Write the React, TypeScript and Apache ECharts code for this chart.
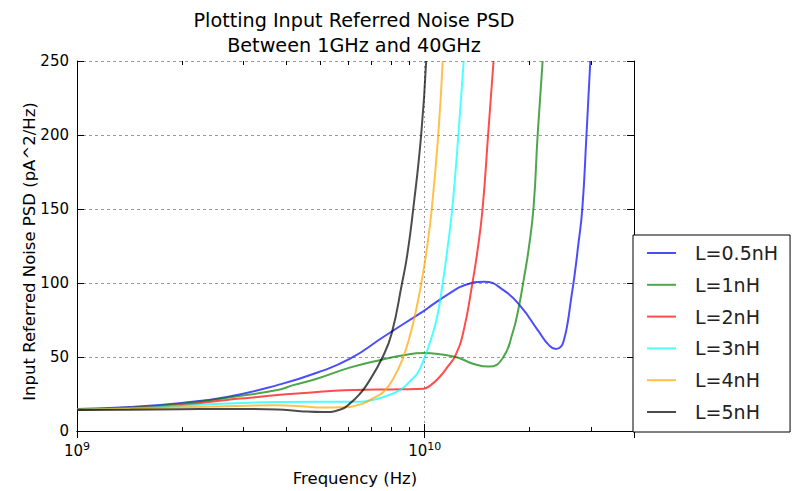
import React, { useEffect, useRef } from 'react';
import * as echarts from 'echarts';

const FONT = 'DejaVu Sans';

const seriesNames = ['L=0.5nH', 'L=1nH', 'L=2nH', 'L=3nH', 'L=4nH', 'L=5nH'];
const seriesColors = [
  'rgba(0,0,255,0.7)',
  'rgba(0,128,0,0.7)',
  'rgba(255,0,0,0.7)',
  'rgba(0,255,255,0.7)',
  'rgba(255,165,0,0.7)',
  'rgba(0,0,0,0.7)',
];

// Frequencies in GHz, PSD values in pA^2/Hz
const freqL05 = [1, 1.42, 2, 2.7, 3.77, 4.92, 6.12, 7.62, 9.55, 10.07, 10.41, 11.88, 12.95, 14.79, 16.89, 18.91, 21.17, 22.77, 23.85, 24.66, 25.15, 25.77, 26.34, 26.94, 27.6, 28.4, 29.2, 29.95];
const valL05 = [14.8, 16.2, 19, 23, 31, 39.5, 49, 63.7, 78.5, 82, 84.5, 93.5, 98.3, 100.9, 95, 84, 68, 58, 55.4, 57, 61.5, 73, 88.5, 104, 124, 150, 200, 250];

const freqL1 = [1, 1.42, 2, 2.7, 3.77, 4.19, 4.92, 6.12, 7.62, 8.6, 9.93, 10.41, 12.28, 13.84, 15.29, 16.74, 17.89, 18.66, 19.29, 19.94, 20.58, 21.13, 21.84];
const valL1 = [14.5, 15.8, 18.5, 22.5, 27.7, 31, 35.5, 43, 48.5, 51, 52.7, 52.5, 50, 45.3, 43.5, 49, 66, 84, 103, 124, 152, 200, 250];

const freqL2 = [1, 1.42, 2, 2.7, 3.15, 3.77, 4.39, 5.84, 7.3, 8.6, 9.93, 10.41, 10.97, 11.65, 12.28, 12.95, 13.72, 14.19, 14.67, 15.22, 15.78];
const valL2 = [14.5, 15.5, 17.5, 21, 22.5, 24.3, 25.5, 27.5, 28, 28.2, 28.6, 31, 35.8, 43.5, 51.5, 68, 100, 122, 150, 200, 250];

const freqL3 = [1, 1.42, 2, 2.7, 3.77, 5, 6.54, 6.85, 7.62, 8.53, 9.11, 9.53, 9.93, 10.41, 10.88, 11.27, 11.61, 12.0, 12.5, 12.95];
const valL3 = [14.5, 15.3, 17, 18.5, 19.6, 19.8, 19.8, 20.3, 23, 28, 34, 39, 48, 61.5, 78, 100, 122, 150, 200, 250];

const freqL4 = [1, 1.42, 2, 2.7, 3.77, 4.39, 5.12, 5.73, 6.54, 7.13, 7.62, 8.14, 8.62, 9.11, 9.49, 9.8, 10.1, 10.48, 10.94, 11.27];
const valL4 = [14.3, 15, 16, 16.8, 17.4, 16.8, 15.8, 16, 18, 22.3, 26.5, 35.8, 48, 66, 84, 101, 120, 150, 200, 250];

const freqL5 = [1, 1.42, 2, 2.7, 3.15, 3.77, 4.39, 5.12, 5.73, 6.12, 6.54, 6.85, 7.57, 8.04, 8.61, 8.91, 9.27, 9.77, 10.1];
const valL5 = [14.2, 14.4, 14.7, 14.9, 14.9, 14.6, 13.4, 12.8, 14.5, 19, 25.7, 32, 50, 66, 100, 119, 150, 200, 250];

const seriesFreqs = [freqL05, freqL1, freqL2, freqL3, freqL4, freqL5];
const seriesVals = [valL05, valL1, valL2, valL3, valL4, valL5];

const xMinHz = 1e9;
const xMaxHz = 4e10;
const yMin = 0;
const yMax = 250;
const yInterval = 50;
const minorTickFreqsGHz = [2, 3, 4, 5, 6, 7, 8, 9, 20, 30];

const titleLines = ['Plotting Input Referred Noise PSD', 'Between 1GHz and 40GHz'];
const xTitle = 'Frequency (Hz)';
const yTitle = 'Input Referred Noise PSD (pA^2/Hz)';

export default function App() {
  const ref = useRef<HTMLDivElement>(null);

  useEffect(() => {
    if (!ref.current) return;
    const chart = echarts.init(ref.current, null, { renderer: 'svg' });

    const gridLine = { show: true, lineStyle: { color: '#9a9a9a', width: 1, type: [3, 3] as any } };
    const axisLineStyle = { show: true, lineStyle: { color: '#000', width: 1 } };

    const lineSeries = seriesNames.map((name, i) => ({
      name,
      type: 'line',
      xAxisIndex: 0,
      yAxisIndex: 0,
      symbol: 'none',
      showSymbol: false,
      smooth: 0.5,
      clip: true,
      lineStyle: { color: seriesColors[i], width: 2 },
      itemStyle: { color: seriesColors[i] },
      data: seriesFreqs[i].map((f, k) => [f * 1e9, seriesVals[i][k]]),
      z: 3,
    }));

    const textGraphics: any[] = [
      {
        type: 'text',
        x: 354,
        y: 20,
        style: { text: titleLines[0], fontSize: 19.2, fontFamily: FONT, fill: '#000', align: 'center', verticalAlign: 'middle', textAlign: 'center', textVerticalAlign: 'middle' },
      },
      {
        type: 'text',
        x: 354,
        y: 45,
        style: { text: titleLines[1], fontSize: 19.2, fontFamily: FONT, fill: '#000', align: 'center', verticalAlign: 'middle', textAlign: 'center', textVerticalAlign: 'middle' },
      },
      {
        type: 'text',
        x: 355,
        y: 478,
        style: { text: xTitle, fontSize: 16.5, fontFamily: FONT, fill: '#000', align: 'center', verticalAlign: 'middle', textAlign: 'center', textVerticalAlign: 'middle' },
      },
      {
        type: 'text',
        x: 29.5,
        y: 251.5,
        rotation: Math.PI / 2,
        style: { text: yTitle, fontSize: 16.5, fontFamily: FONT, fill: '#000', align: 'center', verticalAlign: 'middle', textAlign: 'center', textVerticalAlign: 'middle' },
      },
    ];

    const option: any = {
      animation: false,
      backgroundColor: '#fff',
      grid: { left: 77, top: 61, width: 557, height: 370, containLabel: false },
      xAxis: [
        {
          type: 'log',
          logBase: 10,
          min: xMinHz,
          max: xMaxHz,
          position: 'bottom',
          axisLine: axisLineStyle,
          axisTick: { show: true, inside: true, length: 7, lineStyle: { color: '#000' } },
          splitLine: { show: true, lineStyle: { color: '#9a9a9a', width: 1, type: [2, 3] } },
          axisLabel: {
            margin: 10,
            formatter: (v: number) => {
              const e = Math.log10(v);
              const r = Math.round(e);
              if (Math.abs(e - r) < 1e-6) return `{b|10}{s|${r}}`;
              return '';
            },
            rich: {
              b: { fontSize: 15, fontFamily: FONT, color: '#000' },
              s: { fontSize: 11, fontFamily: FONT, color: '#000', padding: [0, 0, 8, 0] },
            },
          },
        },
        {
          type: 'log',
          logBase: 10,
          min: xMinHz,
          max: xMaxHz,
          position: 'top',
          axisLine: axisLineStyle,
          axisTick: { show: true, inside: true, length: 7, lineStyle: { color: '#000' } },
          splitLine: { show: false },
          axisLabel: { show: false },
        },
      ],
      yAxis: [
        {
          type: 'value',
          min: yMin,
          max: yMax,
          interval: yInterval,
          position: 'left',
          axisLine: axisLineStyle,
          axisTick: { show: true, inside: true, length: 7, lineStyle: { color: '#000' } },
          splitLine: gridLine,
          axisLabel: { fontSize: 15, fontFamily: FONT, color: '#000', margin: 8 },
        },
        {
          type: 'value',
          min: yMin,
          max: yMax,
          interval: yInterval,
          position: 'right',
          axisLine: axisLineStyle,
          axisTick: { show: true, inside: true, length: 7, lineStyle: { color: '#000' } },
          splitLine: { show: false },
          axisLabel: { show: false },
        },
      ],
      legend: {
        data: seriesNames,
        orient: 'vertical',
        left: 633,
        top: 235,
        padding: [7, 12, 9, 14],
        itemGap: 9.8,
        itemWidth: 29,
        itemHeight: 2,
        icon: 'rect',
        backgroundColor: '#fff',
        borderColor: '#000',
        borderWidth: 1,
        borderRadius: 0,
        textStyle: { fontSize: 19, fontFamily: FONT, color: '#222', lineHeight: 22, padding: [0, 0, 0, 14] },
      },
      graphic: textGraphics,
      series: lineSeries,
    };

    chart.setOption(option);

    // Minor log ticks (2..9 x 10^n) on bottom and top, placed through the axis scale
    const yb = chart.convertToPixel({ yAxisIndex: 0 }, yMin) as number;
    const yt = chart.convertToPixel({ yAxisIndex: 0 }, yMax) as number;
    const tickGraphics: any[] = [];
    minorTickFreqsGHz.forEach((f) => {
      const px = chart.convertToPixel({ xAxisIndex: 0 }, f * 1e9) as number;
      const x = Math.round(px) + 0.5;
      tickGraphics.push({ type: 'line', z: 10, shape: { x1: x, y1: yb, x2: x, y2: yb - 4 }, style: { stroke: '#000', lineWidth: 1 } });
      tickGraphics.push({ type: 'line', z: 10, shape: { x1: x, y1: yt, x2: x, y2: yt + 4 }, style: { stroke: '#000', lineWidth: 1 } });
    });
    chart.setOption({ graphic: [...textGraphics, ...tickGraphics] });

    return () => chart.dispose();
  }, []);

  return <div ref={ref} style={{ position: 'fixed', left: 0, top: 0, width: 797, height: 491 }} />;
}
